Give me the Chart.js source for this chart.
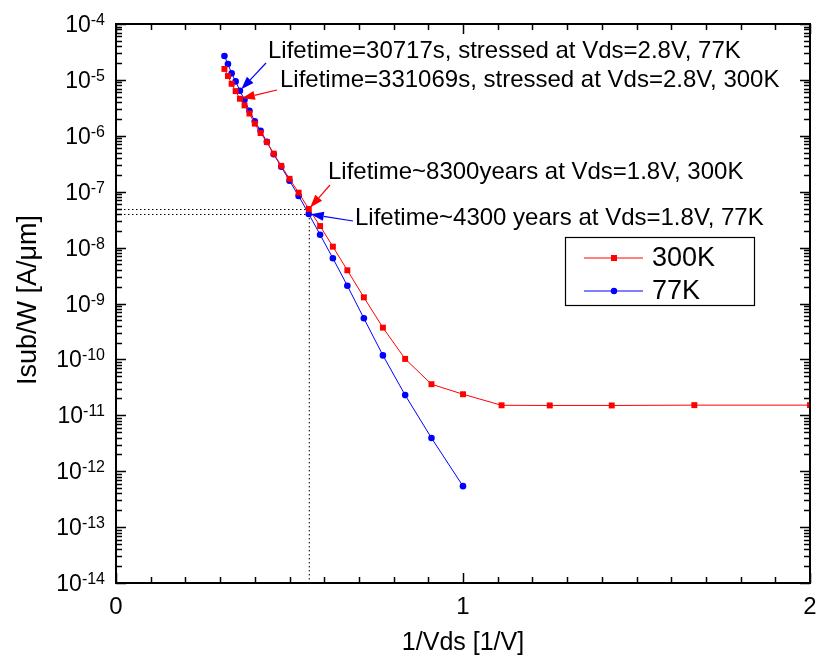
<!DOCTYPE html>
<html>
<head>
<meta charset="utf-8">
<script src="https://cdn.jsdelivr.net/npm/chart.js@4.4.0/dist/chart.umd.min.js"></script>
<style>
  html, body { margin: 0; padding: 0; background: #fff; }
  #wrap { width: 817px; height: 666px; }
</style>
</head>
<body>
<div id="wrap"><canvas id="chart" width="817" height="666"></canvas></div>
<script>
// 1/Vds [1/V] for Vds = 3.2 V ... 0.5 V in 0.1 V steps
const invVds = [0.3125, 0.3226, 0.3333, 0.3448, 0.3571, 0.3704, 0.3846, 0.4, 0.4167, 0.4348,
  0.4545, 0.4762, 0.5, 0.5263, 0.5556, 0.5882, 0.625, 0.6667, 0.7143, 0.7692,
  0.8333, 0.9091, 1.0, 1.1111, 1.25, 1.4286, 1.6667, 2.0];

// Isub/W [A/um]
const isub300K = [1.57e-5, 1.17e-5, 8.5e-6, 6.3e-6, 4.6e-6, 3.5e-6, 2.5e-6, 1.65e-6, 1.12e-6, 7.7e-7,
  4.8e-7, 2.9e-7, 1.7e-7, 9.6e-8, 4.9e-8, 2.43e-8, 1.04e-8, 3.93e-9, 1.29e-9, 3.7e-10,
  1.02e-10, 3.6e-11, 2.38e-11, 1.51e-11, 1.5e-11, 1.5e-11, 1.52e-11, 1.52e-11];
const isub77K = [2.68e-5, 1.92e-5, 1.31e-5, 9.4e-6, 6.4e-6, 4.4e-6, 2.8e-6, 1.82e-6, 1.23e-6, 7.8e-7,
  4.67e-7, 2.8e-7, 1.57e-7, 8.4e-8, 4.0e-8, 1.7e-8, 6.45e-9, 2.08e-9, 5.43e-10, 1.18e-10,
  2.3e-11, 3.93e-12, 5.4e-13];

const seriesNames = ["300K", "77K"];
const xTickLabels = ["0", "1", "2"];
const yTickExponents = [-14, -13, -12, -11, -10, -9, -8, -7, -6, -5, -4];

const xTitle = "1/Vds [1/V]";
const yTitle = "Isub/W [A/\u03bcm]";

// index 14 is Vds = 1.8 V, index 4 is Vds = 2.8 V
const notes = [
  { text: "Lifetime=30717s, stressed at Vds=2.8V, 77K", ds: 1, idx: 4, tx: 268, ty: 51, sx: 266, sy: 63 },
  { text: "Lifetime=331069s, stressed at Vds=2.8V, 300K", ds: 0, idx: 4, tx: 280, ty: 80, sx: 277, sy: 90 },
  { text: "Lifetime~8300years at Vds=1.8V, 300K", ds: 0, idx: 14, tx: 328, ty: 172, sx: 330, sy: 185 },
  { text: "Lifetime~4300 years at Vds=1.8V, 77K", ds: 1, idx: 14, tx: 355, ty: 218, sx: 353, sy: 221 }
];

const FONT = "'Liberation Sans', Arial, sans-serif";
const RED = "#ff0000";
const BLUE = "#0000ff";

function toPoints(xs, ys) {
  return ys.map((y, i) => ({ x: xs[i], y: y }));
}

function arrow(ctx, x0, y0, x1, y1, color) {
  const ang = Math.atan2(y1 - y0, x1 - x0);
  const len = 13, half = 4.5;
  ctx.strokeStyle = color;
  ctx.fillStyle = color;
  ctx.lineWidth = 1.2;
  ctx.beginPath();
  ctx.moveTo(x0, y0);
  ctx.lineTo(x1 - Math.cos(ang) * len, y1 - Math.sin(ang) * len);
  ctx.stroke();
  ctx.beginPath();
  ctx.moveTo(x1, y1);
  ctx.lineTo(x1 - Math.cos(ang) * len - Math.sin(ang) * half, y1 - Math.sin(ang) * len + Math.cos(ang) * half);
  ctx.lineTo(x1 - Math.cos(ang) * len + Math.sin(ang) * half, y1 - Math.sin(ang) * len - Math.cos(ang) * half);
  ctx.closePath();
  ctx.fill();
}

// dotted guide lines to the Vds = 1.8 V points, under the data
const guidePlugin = {
  id: "guides",
  beforeDatasetsDraw(chart) {
    const ctx = chart.ctx, xs = chart.scales.x, ys = chart.scales.y;
    const px = xs.getPixelForValue(invVds[14]);
    const pr = ys.getPixelForValue(isub300K[14]);
    const pb = ys.getPixelForValue(isub77K[14]);
    ctx.save();
    ctx.strokeStyle = "#000";
    ctx.lineWidth = 1;
    ctx.setLineDash([1.5, 2.5]);
    ctx.beginPath();
    ctx.moveTo(xs.left, pr + 0.5); ctx.lineTo(px, pr + 0.5);
    ctx.moveTo(xs.left, pb + 0.5); ctx.lineTo(px, pb + 0.5);
    ctx.moveTo(px + 0.5, pb); ctx.lineTo(px + 0.5, ys.bottom);
    ctx.stroke();
    ctx.restore();
  }
};

// frame, inward ticks, tick labels, titles, legend, notes
const framePlugin = {
  id: "frame",
  afterDraw(chart) {
    const ctx = chart.ctx, xs = chart.scales.x, ys = chart.scales.y;
    const L = xs.left, R = xs.right, T = ys.top, B = ys.bottom;
    ctx.save();

    ctx.strokeStyle = "#000";
    ctx.lineWidth = 2;
    ctx.strokeRect(L, T, R - L, B - T);

    // x ticks (bottom and top)
    ctx.lineWidth = 1.5;
    ctx.beginPath();
    for (let k = 0; k <= 20; k++) {
      const v = k / 10;
      const p = Math.round(xs.getPixelForValue(v)) + 0.5;
      const len = k % 10 === 0 ? 10 : 6;
      ctx.moveTo(p, B); ctx.lineTo(p, B - len);
      ctx.moveTo(p, T); ctx.lineTo(p, T + len);
    }
    // y ticks (left and right)
    for (let e = -14; e <= -4; e++) {
      for (let m = 1; m <= 9; m++) {
        if (e === -4 && m > 1) break;
        const p = Math.round(ys.getPixelForValue(m * Math.pow(10, e))) + 0.5;
        const len = m === 1 ? 10 : 6;
        ctx.moveTo(L, p); ctx.lineTo(L + len, p);
        ctx.moveTo(R, p); ctx.lineTo(R - len, p);
      }
    }
    ctx.stroke();

    ctx.fillStyle = "#000";
    // x tick labels
    ctx.font = "24px " + FONT;
    ctx.textAlign = "center";
    ctx.textBaseline = "middle";
    xTickLabels.forEach(t => {
      ctx.fillText(t, xs.getPixelForValue(Number(t)), 607);
    });

    // y tick labels 10^n
    yTickExponents.forEach(n => {
      const p = ys.getPixelForValue(Math.pow(10, n));
      ctx.textAlign = "right";
      ctx.textBaseline = "alphabetic";
      ctx.font = "16px " + FONT;
      const ex = String(n);
      ctx.fillText(ex, 105, p + 1);
      const w = ctx.measureText(ex).width;
      ctx.font = "23px " + FONT;
      ctx.fillText("10", 105 - w, p + 8);
    });

    // axis titles
    ctx.font = "25px " + FONT;
    ctx.textAlign = "center";
    ctx.textBaseline = "middle";
    ctx.fillText(xTitle, (L + R) / 2, 643);
    ctx.save();
    ctx.translate(29, 300);
    ctx.rotate(-Math.PI / 2);
    ctx.font = "27px " + FONT;
    ctx.fillText(yTitle, 0, 0);
    ctx.restore();

    // legend
    ctx.lineWidth = 1.2;
    ctx.strokeStyle = "#000";
    ctx.strokeRect(565.5, 237.5, 189, 68);
    chart.data.datasets.forEach((d, i) => {
      const yy = 258 + i * 33;
      ctx.strokeStyle = d.borderColor;
      ctx.lineWidth = 1;
      ctx.beginPath();
      ctx.moveTo(584, yy); ctx.lineTo(643, yy);
      ctx.stroke();
      ctx.fillStyle = d.backgroundColor;
      if (d.pointStyle === "rect") {
        ctx.fillRect(611, yy - 3, 6, 6);
      } else {
        ctx.beginPath();
        ctx.arc(614, yy, 3.2, 0, Math.PI * 2);
        ctx.fill();
      }
      ctx.fillStyle = "#000";
      ctx.font = "27px " + FONT;
      ctx.textAlign = "left";
      ctx.textBaseline = "middle";
      ctx.fillText(d.label, 652, yy + 1);
    });

    // annotations with arrows pointing at data points
    notes.forEach(n => {
      const d = chart.data.datasets[n.ds];
      const pt = d.data[n.idx];
      const px = xs.getPixelForValue(pt.x), py = ys.getPixelForValue(pt.y);
      const ang = Math.atan2(py - n.sy, px - n.sx);
      arrow(ctx, n.sx, n.sy, px - Math.cos(ang) * 2, py - Math.sin(ang) * 2, d.borderColor);
      ctx.fillStyle = "#000";
      ctx.font = "24px " + FONT;
      ctx.textAlign = "left";
      ctx.textBaseline = "middle";
      ctx.fillText(n.text, n.tx, n.ty);
    });

    ctx.restore();
  }
};

new Chart(document.getElementById("chart"), {
  type: "scatter",
  data: {
    datasets: [
      {
        label: seriesNames[0],
        data: toPoints(invVds, isub300K),
        showLine: true,
        borderColor: RED,
        backgroundColor: RED,
        borderWidth: 1,
        pointStyle: "rect",
        pointRadius: 4.2,
        pointBorderWidth: 0
      },
      {
        label: seriesNames[1],
        data: toPoints(invVds, isub77K),
        showLine: true,
        borderColor: BLUE,
        backgroundColor: BLUE,
        borderWidth: 1,
        pointStyle: "circle",
        pointRadius: 3.3,
        pointBorderWidth: 0
      }
    ]
  },
  options: {
    responsive: false,
    animation: false,
    layout: { padding: { left: 116, top: 24, right: 7, bottom: 83 } },
    scales: {
      x: { type: "linear", min: 0, max: 2, display: false },
      y: { type: "logarithmic", min: 1e-14, max: 1e-4, display: false }
    },
    plugins: { legend: { display: false }, tooltip: { enabled: false } }
  },
  plugins: [guidePlugin, framePlugin]
});
</script>
</body>
</html>
